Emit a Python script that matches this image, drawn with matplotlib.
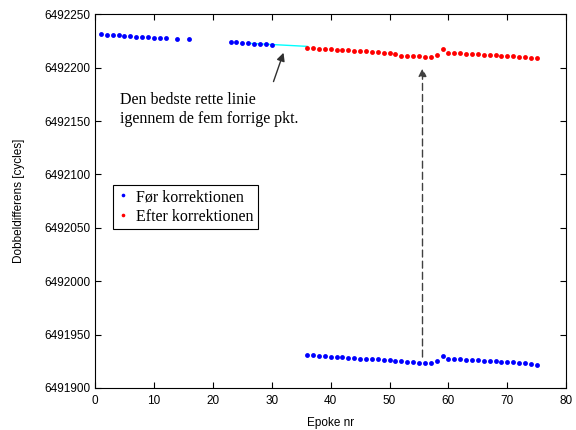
import numpy as np
import matplotlib
matplotlib.use('Agg')
import matplotlib.pyplot as plt

# Blue points before correction (upper group)
epoch_before_top = [1, 2, 3, 4, 5, 6, 7, 8, 9, 10, 11, 12, 14, 16, 23, 24, 25, 26, 27, 28, 29, 30]
dd_before_top = [6492231.3, 6492230.6, 6492230.4, 6492230.2, 6492229.6, 6492229.4, 6492229.2,
                 6492228.6, 6492228.4, 6492228.2, 6492227.6, 6492227.4, 6492226.8, 6492226.6,
                 6492224.5, 6492224.1, 6492223.5, 6492222.9, 6492222.6, 6492222.2, 6492222.1,
                 6492221.7]

# Epochs after the cycle slip
epoch_after = list(range(36, 76))

# Blue points before correction (lower group)
dd_before_low = [6491930.9, 6491930.9, 6491929.9, 6491929.9, 6491929.3, 6491928.7, 6491928.7,
                 6491928.1, 6491928.1, 6491927.4, 6491927.4, 6491926.8, 6491926.8, 6491926.2,
                 6491926.2, 6491925.6, 6491924.9, 6491924.3, 6491924.0, 6491923.8, 6491923.1,
                 6491923.1, 6491924.9, 6491929.9, 6491926.8, 6491926.8, 6491926.8, 6491925.9,
                 6491925.9, 6491925.9, 6491924.9, 6491924.9, 6491924.9, 6491924.0, 6491924.0,
                 6491924.0, 6491923.1, 6491923.1, 6491922.2, 6491921.9]

# Red points after correction
dd_corrected = [6492218.5, 6492218.5, 6492217.3, 6492217.3, 6492217.3, 6492216.6, 6492216.6,
                6492216.6, 6492215.7, 6492215.7, 6492215.7, 6492214.8, 6492214.8, 6492213.5,
                6492213.5, 6492212.6, 6492211.4, 6492211.4, 6492211.4, 6492211.4, 6492210.4,
                6492210.4, 6492211.9, 6492217.5, 6492214.2, 6492214.2, 6492214.2, 6492213.2,
                6492213.2, 6492213.2, 6492212.3, 6492212.3, 6492212.3, 6492211.4, 6492211.4,
                6492211.4, 6492210.4, 6492210.4, 6492209.5, 6492209.5]

# Straight line through the five previous points, extended to epoch 36
fit_x = np.array(epoch_before_top[-5:])
fit_y = np.array(dd_before_top[-5:])
coef = np.polyfit(fit_x - 30, fit_y - 6492000, 1)
line_x = np.array([26, 36])
line_y = np.polyval(coef, line_x - 30) + 6492000

fig = plt.figure(figsize=(5.76, 4.30), dpi=100)
ax = fig.add_axes([0.165, 0.0977, 0.818, 0.869])

ax.plot(line_x, line_y, color=(0, 1, 1), linewidth=1.0, zorder=1)
ax.plot(epoch_before_top, dd_before_top, 'o', color=(0, 0, 1), markersize=3.5,
        markeredgewidth=0, label='Før korrektionen', zorder=2)
ax.plot(epoch_after, dd_before_low, 'o', color=(0, 0, 1), markersize=3.5,
        markeredgewidth=0, zorder=2)
ax.plot(epoch_after, dd_corrected, 'o', color=(1, 0, 0), markersize=3.5,
        markeredgewidth=0, label='Efter korrektionen', zorder=2)

# dashed arrow showing the correction
ax.annotate('', xy=(55.6, 6492199.5), xytext=(55.6, 6491929.0),
            arrowprops=dict(arrowstyle='-|>', linestyle=(0, (5, 3)), color='#404040',
                            lw=1.0, mutation_scale=12, shrinkA=0, shrinkB=0))

# arrow to the fitted line
ax.annotate('', xy=(32.0, 6492214.0), xytext=(30.3, 6492187.0),
            arrowprops=dict(arrowstyle='-|>', color='#303030', lw=1.0,
                            mutation_scale=12, shrinkA=0, shrinkB=0))
ax.text(4.2, 6492177, 'Den bedste rette linie\nigennem de fem forrige pkt.',
        family='Liberation Serif', fontsize=11.5, va='top', ha='left', linespacing=1.2)

ax.set_xlim(0, 80)
ax.set_ylim(6491900, 6492250)
ax.set_xticks(np.arange(0, 81, 10))
ax.set_yticks(np.arange(6491900, 6492251, 50))
ax.ticklabel_format(axis='y', style='plain', useOffset=False)
ax.tick_params(direction='in', top=True, right=True, labelsize=8.5, length=4)
ax.tick_params(axis='x', pad=5)
for lbl in ax.get_xticklabels() + ax.get_yticklabels():
    lbl.set_family('Liberation Sans')
for s in ax.spines.values():
    s.set_linewidth(0.8)

ax.set_xlabel('Epoke nr', family='Liberation Sans', fontsize=8.5, labelpad=7)
ax.set_ylabel('Dobbeldifferens [cycles]', family='Liberation Sans', fontsize=8.5, labelpad=14)

leg = ax.legend(loc='upper left', bbox_to_anchor=(0.038, 0.543), borderaxespad=0,
                prop={'family': 'Liberation Serif', 'size': 11.5}, fancybox=False,
                edgecolor='k', framealpha=1, handlelength=0.7, handletextpad=0.5,
                markerscale=0.75, labelspacing=0.25, borderpad=0.25)
leg.get_frame().set_linewidth(0.8)

fig.savefig('out.png', dpi=100)
